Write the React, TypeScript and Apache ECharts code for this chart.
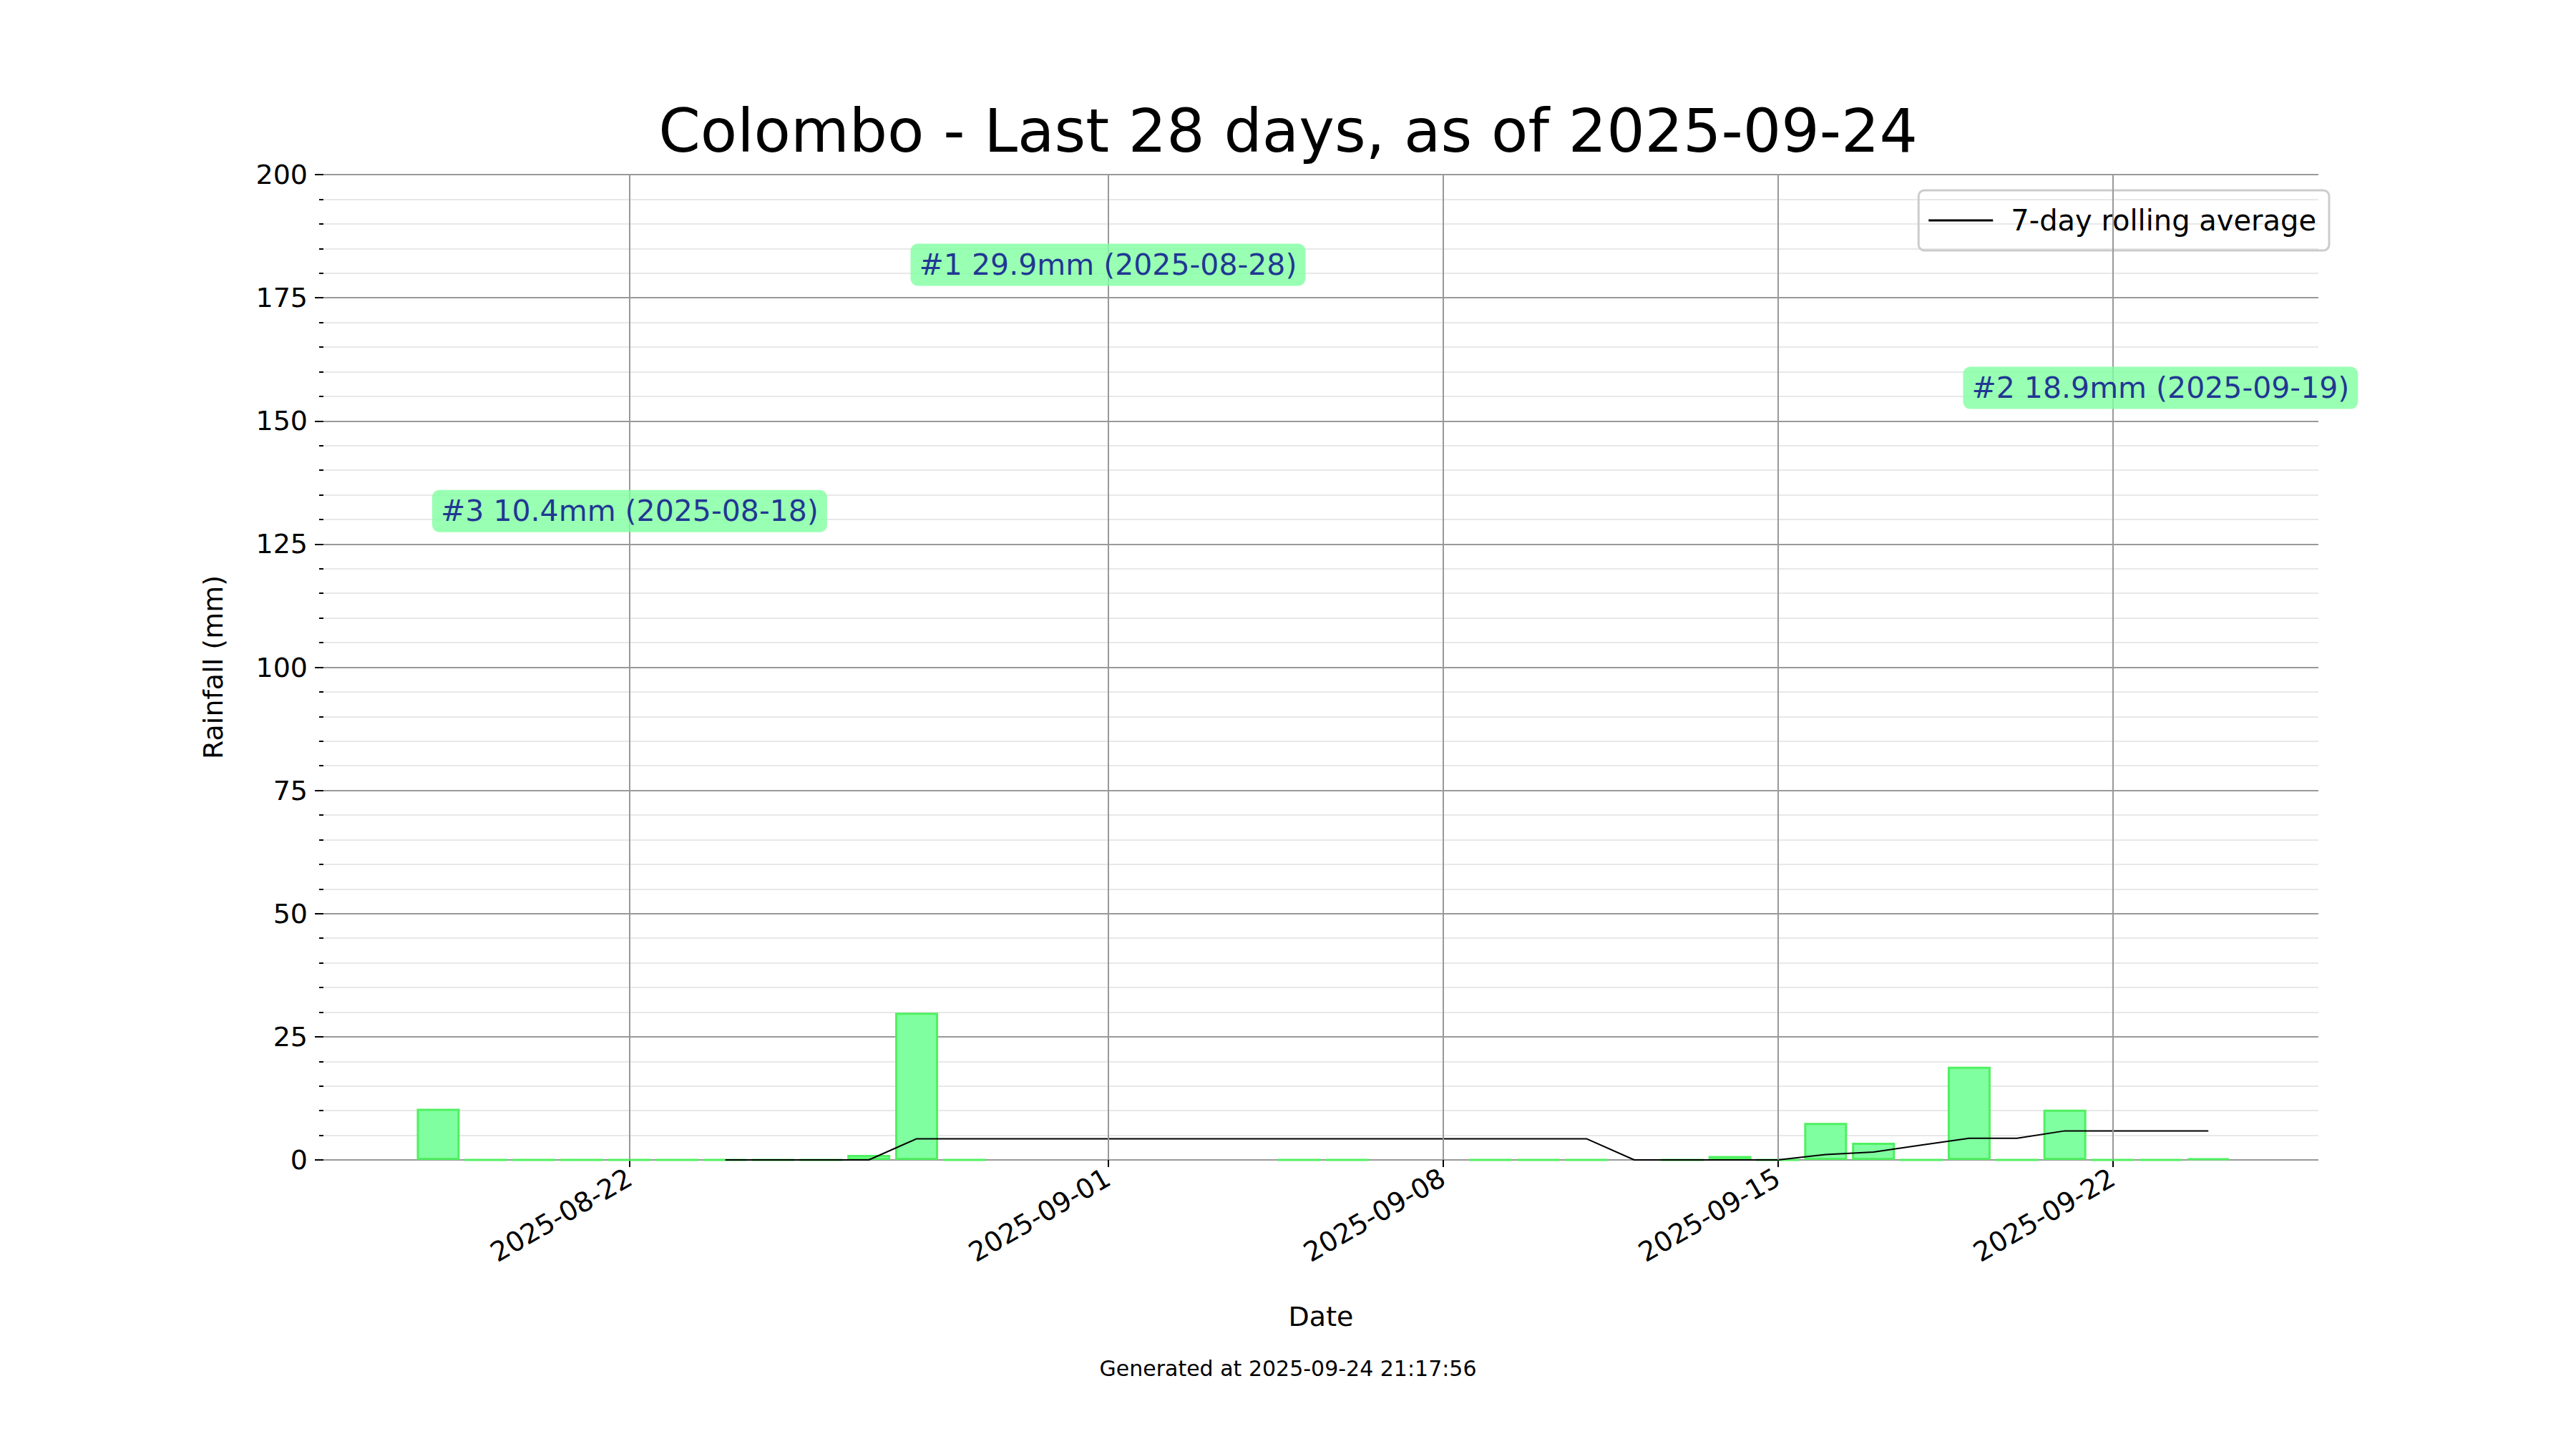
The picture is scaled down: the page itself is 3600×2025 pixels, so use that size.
import React, { useEffect, useRef } from 'react';
import * as echarts from 'echarts';

// daily rainfall (mm), null = no reading
const dates = [
  '2025-08-18', '2025-08-19', '2025-08-20', '2025-08-21', '2025-08-22', '2025-08-23', '2025-08-24',
  '2025-08-25', '2025-08-26', '2025-08-27', '2025-08-28', '2025-08-29',
  '2025-09-05', '2025-09-06', '2025-09-09', '2025-09-10', '2025-09-11',
  '2025-09-13', '2025-09-14', '2025-09-15', '2025-09-16', '2025-09-17', '2025-09-18',
  '2025-09-19', '2025-09-20', '2025-09-21', '2025-09-22', '2025-09-23', '2025-09-24',
];
const rainfall = [
  10.4, 0, 0, 0, 0, 0, 0,
  0, 0, 1.0, 29.9, 0,
  0, 0, 0, 0, 0,
  0, 0.8, 0, 7.5, 3.5, 0,
  18.9, 0, 10.2, 0, 0, 0.3,
];

// 7-day rolling average
const avgDates = [
  '2025-08-24', '2025-08-25', '2025-08-26', '2025-08-27', '2025-08-28', '2025-09-11',
  '2025-09-12', '2025-09-13', '2025-09-14', '2025-09-15', '2025-09-16', '2025-09-17',
  '2025-09-18', '2025-09-19', '2025-09-20', '2025-09-21', '2025-09-22', '2025-09-23', '2025-09-24',
];
const avgValues = [
  0, 0, 0, 0, 4.3, 4.3,
  0, 0, 0, 0, 1.1, 1.6,
  3.0, 4.4, 4.4, 5.9, 5.9, 5.9, 5.9,
];

const tickDates = ['2025-08-22', '2025-09-01', '2025-09-08', '2025-09-15', '2025-09-22'];

const annotations = [
  { text: '#3 10.4mm (2025-08-18)', date: '2025-08-22', y: 131.7 },
  { text: '#1 29.9mm (2025-08-28)', date: '2025-09-01', y: 181.7 },
  { text: '#2 18.9mm (2025-09-19)', date: '2025-09-23', y: 156.7 },
];

const BASE = Date.UTC(2025, 7, 22);
const dayOf = (d: string) => {
  const [y, m, dd] = d.split('-').map(Number);
  return (Date.UTC(y, m - 1, dd) - BASE) / 86400000;
};
const labelOf = (v: number) => {
  const d = new Date(BASE + Math.round(v) * 86400000);
  return d.toISOString().slice(0, 10);
};

const App: React.FC = () => {
  const ref = useRef<HTMLDivElement | null>(null);

  useEffect(() => {
    document.body.style.margin = '0';
    if (!ref.current) return;
    const chart = echarts.init(ref.current, null, { renderer: 'svg' });
    const font = 'DejaVu Sans';
    const ticks = tickDates.map(dayOf);

    chart.setOption({
      animation: false,
      textStyle: { fontFamily: font },
      title: {
        text: 'Colombo - Last 28 days, as of 2025-09-24',
        left: 'center',
        top: 136,
        textStyle: { fontSize: 84, fontWeight: 'normal', color: '#000', fontFamily: font },
      },
      legend: {
        right: 345,
        top: 266,
        itemWidth: 90,
        itemHeight: 3,
        padding: [22, 18, 22, 14],
        borderColor: '#ccc',
        borderWidth: 3,
        borderRadius: 8,
        textStyle: { fontSize: 40, color: '#000', fontFamily: font, padding: [0, 0, 0, 20] },
        data: [{ name: '7-day rolling average', icon: 'rect' }],
      },
      grid: { left: 452, right: 325 + 35, top: 244, bottom: 388 + 16 },
      xAxis: {
        type: 'value',
        min: -6.4,
        max: 35.3,
        name: 'Date',
        nameLocation: 'middle',
        nameGap: 200,
        nameTextStyle: { fontSize: 38, color: '#000' },
        axisLine: { show: false, onZero: false },
        splitLine: { show: false },
        axisTick: { show: true, customValues: ticks, length: 10, lineStyle: { color: '#000', width: 2 } },
        axisLabel: {
          customValues: ticks,
          rotate: 30,
          fontSize: 38,
          color: '#000',
          margin: 22,
          formatter: (v: number) => labelOf(v),
        },
      },
      yAxis: {
        type: 'value',
        min: 0,
        max: 200,
        interval: 25,
        name: 'Rainfall (mm)',
        nameLocation: 'middle',
        nameGap: 135,
        nameTextStyle: { fontSize: 38, color: '#000' },
        axisLine: { show: false, onZero: false },
        axisTick: { show: true, length: 12, lineStyle: { color: '#000', width: 2 } },
        minorTick: { show: true, splitNumber: 5, length: 6, lineStyle: { color: '#000', width: 2 } },
        axisLabel: { fontSize: 38, color: '#000', margin: 22 },
        splitLine: { lineStyle: { color: '#999', width: 2 } },
        minorSplitLine: { show: true, lineStyle: { color: '#e8e8e8', width: 2 } },
      },
      series: [
        {
          name: 'rain',
          type: 'bar',
          barWidth: 60,
          data: dates.map((d, i) => [dayOf(d), rainfall[i]]),
          itemStyle: { color: 'rgba(128,255,160,1)', borderColor: '#50f060', borderWidth: 3 },
          markLine: {
            silent: true,
            symbol: 'none',
            label: { show: false },
            lineStyle: { color: '#999', width: 2, type: 'solid' },
            data: ticks.map((t) => ({ xAxis: t })),
          },
          z: 2,
        },
        {
          name: '7-day rolling average',
          type: 'line',
          data: avgDates.map((d, i) => [dayOf(d), avgValues[i]]),
          showSymbol: false,
          color: '#000',
          lineStyle: { color: '#000', width: 2 },
          z: 3,
        },
        {
          name: 'notes',
          type: 'scatter',
          symbolSize: 0,
          data: annotations.map((a) => ({ value: [dayOf(a.date), a.y], name: a.text })),
          label: {
            show: true,
            position: 'inside',
            formatter: (p: any) => p.name,
            fontSize: 41,
            color: '#00008b',
            backgroundColor: '#80ffa0',
            borderRadius: 10,
            padding: [10, 12, 8, 12],
          },
          z: 5,
        },
      ],
      graphic: [
        {
          type: 'text',
          left: 'center',
          top: 1897,
          style: { text: 'Generated at 2025-09-24 21:17:56', fontSize: 30, fill: '#000', fontFamily: font },
        },
      ],
    });

    return () => chart.dispose();
  }, []);

  return <div ref={ref} style={{ width: 3600, height: 2025 }} />;
};

export default App;
